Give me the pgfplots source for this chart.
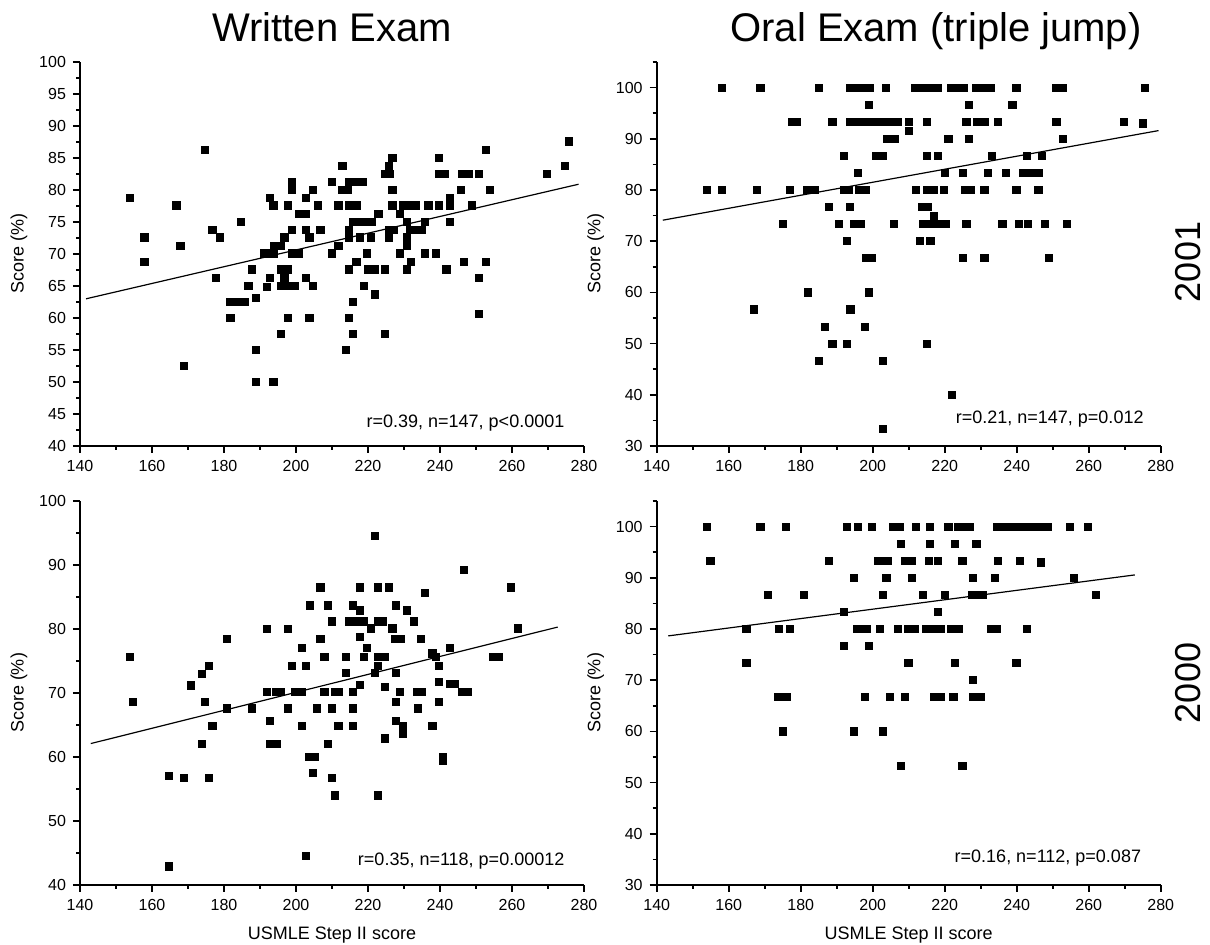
\documentclass[border=0pt]{standalone}
\usepackage{fontspec}
\setmainfont{Liberation Sans}
\usepackage{pgfplots}
\usepackage{pgfplotstable}
\pgfplotsset{compat=1.18}

% written exam 2001
\pgfplotstableread{
x y
174.8 86.3
198.8 81.3
198.8 80.0
153.9 78.8
192.8 78.8
166.8 77.6
193.7 77.6
197.8 77.6
200.8 76.3
184.8 75.0
176.8 73.8
198.8 73.8
157.9 72.6
178.9 72.6
196.8 72.6
167.9 71.3
193.8 71.3
195.8 71.3
191.0 70.1
192.8 70.1
193.7 70.1
198.8 70.1
200.8 70.1
157.9 68.8
187.7 67.6
195.9 67.6
197.8 67.6
177.8 66.3
192.8 66.3
196.8 66.3
186.8 65.0
191.9 64.8
195.9 65.0
197.8 65.0
199.8 65.0
188.8 63.1
181.8 62.5
183.9 62.5
185.9 62.5
181.8 60.0
197.8 60.0
195.8 57.5
188.8 55.0
168.8 52.5
188.8 50.0
193.7 50.0
275.7 87.6
252.8 86.3
226.8 85.0
239.8 85.0
212.9 83.8
225.9 83.8
274.8 83.8
224.8 82.5
226.1 82.5
239.7 82.5
241.4 82.5
246.0 82.5
248.0 82.5
250.8 82.5
269.7 82.5
209.9 81.3
214.8 81.3
216.6 81.3
218.5 81.3
202.8 78.8
204.8 80.0
212.8 80.0
214.3 80.0
226.8 80.0
245.7 80.0
253.8 80.0
242.8 78.8
242.8 77.6
206.0 77.6
211.8 77.6
214.8 77.6
216.8 77.6
226.8 77.6
229.6 77.6
231.4 77.6
233.3 77.6
236.8 77.6
239.7 77.6
248.8 77.6
202.8 76.3
222.9 76.3
228.8 76.3
215.7 75.0
217.6 75.0
219.4 75.0
221.1 75.0
230.8 75.0
235.8 75.0
242.8 75.0
202.8 73.8
206.8 73.8
214.8 73.8
225.7 73.8
227.3 73.8
231.6 73.8
233.3 73.8
234.9 73.8
203.7 72.6
214.8 72.6
217.7 72.6
220.8 72.6
225.9 72.6
230.8 72.6
211.8 71.3
230.8 71.3
209.9 70.1
219.7 70.1
228.8 70.1
235.8 70.1
238.8 70.1
216.8 68.8
231.9 68.8
246.7 68.8
252.8 68.8
214.8 67.6
219.9 67.6
222.0 67.6
224.8 67.6
230.8 67.6
241.8 67.6
202.8 66.3
250.8 66.3
204.8 65.0
218.8 65.0
221.9 63.7
215.8 62.5
203.7 60.0
214.8 60.0
250.8 60.6
215.8 57.5
224.8 57.5
213.9 55.0
}\writtenA

% oral exam 2001
\pgfplotstableread{
x y
158.0 100
168.8 100
185.0 100
193.7 100
195.6 100
197.4 100
199.1 100
198.9 96.67
177.7 93.33
178.8 93.33
188.8 93.33
193.7 93.33
195.9 93.33
197.7 93.33
199.3 93.33
200.9 93.33
191.9 86.67
200.8 86.67
195.9 83.33
153.9 80
158.0 80
167.9 80
177.0 80
181.7 80
183.9 80
191.9 80
193.4 80
196.1 80
198.2 80
187.9 76.67
193.7 76.67
175.0 73.33
190.7 73.33
194.8 73.33
196.7 73.33
192.9 70
198.0 66.67
199.8 66.67
181.9 60
198.9 60
167.1 56.67
193.8 56.67
186.8 53.33
197.8 53.33
188.8 50
192.9 50
185.0 46.67
203.7 100
211.8 100
213.9 100
215.9 100
218.0 100
221.7 100
223.6 100
225.2 100
228.8 100
230.7 100
232.8 100
239.9 100
251.0 100
252.8 100
275.7 100
226.8 96.67
238.8 96.67
202.8 93.33
204.8 93.33
206.9 93.33
210.0 93.33
210.0 91.6
215.1 93.33
226.0 93.33
229.1 93.33
231.2 93.33
234.7 93.33
251.0 93.33
269.8 93.33
275.0 93.0
203.9 90
206.0 90
221.0 90
226.8 90
252.8 90
202.8 86.67
215.0 86.67
218.0 86.67
233.0 86.67
242.8 86.67
246.9 86.67
220.0 83.33
225.0 83.33
231.9 83.33
237.0 83.33
241.8 83.33
243.9 83.33
246.0 83.33
212.0 80
215.2 80
217.1 80
219.7 80
225.7 80
227.3 80
231.0 80
239.9 80
246.0 80
213.7 76.67
215.2 76.67
217.1 75.0
205.8 73.33
213.9 73.33
215.9 73.33
218.0 73.33
220.3 73.33
226.0 73.33
236.0 73.33
240.6 73.33
243.0 73.33
247.8 73.33
254.0 73.33
213.0 70
216.0 70
225.0 66.67
231.0 66.67
249.0 66.67
215.0 50
202.8 46.67
221.9 40
202.8 33.33
}\oralA

% written exam 2000
\pgfplotstableread{
x y
153.8 75.7
154.8 68.6
164.8 57.1
164.8 42.9
168.9 56.7
170.8 71.2
173.9 73.0
173.9 62.1
174.8 68.6
175.9 74.2
175.9 56.7
176.8 64.8
180.8 78.4
180.8 67.6
187.7 67.6
191.9 80.0
191.9 70.2
192.8 65.7
192.8 62.1
194.7 62.1
194.5 70.2
195.9 70.2
197.8 80.0
197.8 67.6
198.8 74.2
199.8 70.2
221.9 94.6
246.7 89.2
206.8 86.5
217.8 86.5
222.8 86.5
225.9 86.5
259.7 86.5
235.8 85.7
203.8 83.7
208.9 83.7
215.8 83.7
227.7 83.7
217.8 82.9
230.8 82.9
209.9 81.2
214.8 81.2
216.6 81.2
218.7 81.2
222.8 81.2
224.0 81.2
232.8 81.2
206.8 78.4
220.8 80.1
226.8 80.1
261.7 80.1
217.8 78.8
227.5 78.4
229.1 78.4
234.7 78.4
201.7 77.1
219.8 77.1
242.8 77.1
207.9 75.7
213.9 75.7
218.8 75.7
222.8 75.7
224.8 75.7
237.9 76.2
238.8 75.7
254.7 75.7
256.2 75.7
202.8 74.2
222.8 74.2
239.8 74.2
213.9 73.1
221.9 73.1
227.7 73.1
217.8 71.3
224.8 71.0
239.8 71.7
242.8 71.4
244.0 71.4
201.7 70.2
207.9 70.2
210.9 70.2
211.8 70.2
215.8 70.2
228.8 70.2
233.7 70.2
234.9 70.2
246.0 70.2
247.8 70.2
227.7 68.6
239.8 68.6
205.8 67.6
209.9 67.6
215.8 67.6
233.8 67.6
201.7 64.8
211.8 64.8
215.8 64.8
227.7 65.7
229.8 64.8
229.8 63.7
237.9 64.8
224.8 62.9
208.9 62.1
203.5 60.0
205.1 60.0
240.8 60.0
240.8 59.4
204.8 57.5
209.9 56.7
210.8 54.0
222.8 54.0
202.8 44.6
}\writtenB

% oral exam 2000
\pgfplotstableread{
x y
153.9 100
154.9 93.33
164.9 80
164.9 73.33
168.8 100
170.8 86.67
174.0 80
176.9 80
173.7 66.67
175.1 66.67
176.2 66.67
175.0 60
175.9 100
180.8 86.67
187.9 93.33
191.9 83.33
191.9 76.67
192.9 100
194.8 90
194.8 60
195.9 100
195.6 80
197.1 80
198.4 80
197.9 66.67
198.9 76.67
199.8 100
201.4 93.33
202.8 93.33
204.2 93.33
201.9 80
202.9 86.67
202.9 60
203.8 90
204.8 66.67
205.7 100
207.4 100
212.0 100
215.9 100
221.0 100
223.6 100
225.4 100
227.0 100
234.4 100
236.2 100
238.1 100
239.9 100
241.6 100
243.6 100
245.4 100
247.3 100
248.5 100
254.8 100
259.8 100
207.9 96.67
215.9 96.67
222.9 96.67
228.8 96.67
209.1 93.33
210.9 93.33
215.7 93.33
218.0 93.33
224.9 93.33
234.7 93.33
240.9 93.33
246.8 93.0
210.8 90
227.9 90
233.9 90
255.9 90
213.9 86.67
220.0 86.67
227.7 86.67
229.3 86.67
230.7 86.67
261.9 86.67
218.0 83.33
206.9 80
209.7 80
211.8 80
214.8 80
216.4 80
218.8 80
221.7 80
223.8 80
232.8 80
234.4 80
242.8 80
209.9 73.33
222.9 73.33
239.9 73.33
227.9 70
208.9 66.67
217.1 66.67
219.0 66.67
222.4 66.67
227.9 66.67
230.0 66.67
207.9 53.33
224.9 53.33
}\oralB

\pgfplotsset{
  panel/.style={
    scale only axis, width=252pt, height=192pt,
    xmin=140, xmax=280, xtick={140,160,...,280}, minor xtick={150,170,...,270},
    axis x line=bottom, axis y line=left,
    axis line style={-, line width=1pt},
    tick align=outside, major tick length=3.5pt, minor tick length=2pt,
    every tick/.style={black, line width=0.8pt},
    tick label style={font=\fontsize{8}{9.5}\selectfont},
    /pgf/number format/assume math mode=true,
    ylabel={Score (\%)},
    ylabel style={at={(axis description cs:-0.121,0.5)}, anchor=center, font=\fontsize{9}{11}\selectfont},
    xlabel style={at={(axis description cs:0.5,-0.13)}, anchor=center, font=\fontsize{9}{11}\selectfont},
  },
  pts/.style={only marks, mark=square*, mark size=1.8pt, black},
  fit/.style={no marks, black, line width=0.6pt},
}
\tikzset{stat/.style={anchor=east, font=\fontsize{9}{11}\selectfont}}

\begin{document}
\begin{tikzpicture}
\useasboundingbox (0,0) rectangle (605pt,472.5pt);

\begin{axis}[panel, at={(40pt,249.5pt)}, anchor=south west,
  ymin=40, ymax=100, ytick={40,45,...,100}, minor ytick={42.5,47.5,...,97.5}]
\addplot[pts] table {\writtenA};
\addplot[fit] coordinates {(141.7,63.0) (278.5,80.9)};
\node[stat] at (rel axis cs:0.975,0.06) {r=0.39, n=147, p<0.0001};
\end{axis}

\begin{axis}[panel, at={(328.35pt,249.5pt)}, anchor=south west,
  ymin=30, ymax=105, ytick={30,40,...,100}, minor ytick={35,45,...,105}]
\addplot[pts] table {\oralA};
\addplot[fit] coordinates {(141.7,74.1) (279.4,91.6)};
\node[stat] at (rel axis cs:0.98,0.07) {r=0.21, n=147, p=0.012};
\end{axis}

\begin{axis}[panel, at={(40pt,30pt)}, anchor=south west,
  ymin=40, ymax=100, ytick={40,50,...,100}, minor ytick={45,55,...,95},
  xlabel={USMLE Step II score}]
\addplot[pts] table {\writtenB};
\addplot[fit] coordinates {(143.0,62.1) (272.7,80.3)};
\node[stat] at (rel axis cs:0.975,0.063) {r=0.35, n=118, p=0.00012};
\end{axis}

\begin{axis}[panel, at={(328.35pt,30pt)}, anchor=south west,
  ymin=30, ymax=105, ytick={30,40,...,100}, minor ytick={35,45,...,105},
  xlabel={USMLE Step II score}]
\addplot[pts] table {\oralB};
\addplot[fit] coordinates {(143.2,78.65) (272.8,90.56)};
\node[stat] at (rel axis cs:0.975,0.071) {r=0.16, n=112, p=0.087};
\end{axis}

\node[anchor=base, font=\fontsize{20}{24}\selectfont] at (166pt,451.5pt) {Written Exam};
\node[anchor=base, font=\fontsize{20}{24}\selectfont] at (468pt,451.5pt) {Oral Exam (triple jump)};
\node[rotate=90, font=\fontsize{18}{21}\selectfont] at (594pt,341.5pt) {2001};
\node[rotate=90, font=\fontsize{18}{21}\selectfont] at (594pt,131pt) {2000};
\end{tikzpicture}
\end{document}
